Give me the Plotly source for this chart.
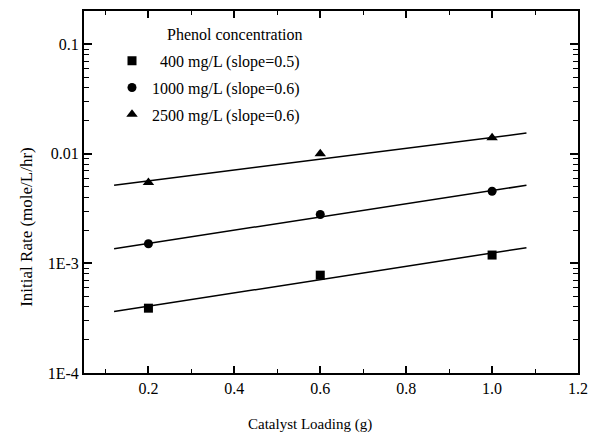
import plotly.graph_objects as go

# Data
catalyst_g = [0.2, 0.6, 1.0]
rate_400 = [0.00039, 0.00078, 0.00119]
rate_1000 = [0.00151, 0.00279, 0.00454]
rate_2500 = [0.00545, 0.0100, 0.0140]

# Fitted lines (end points)
fit_x = [0.12, 1.08]
fit_400 = [0.000363, 0.00139]
fit_1000 = [0.00136, 0.00515]
fit_2500 = [0.00515, 0.01542]

names = ["\u2007400 mg/L (slope=0.5)", "1000 mg/L (slope=0.6)", "2500 mg/L (slope=0.6)"]
symbols = ["square", "circle", "triangle-up"]
sizes = [9, 9, 10]

FONT = "'Liberation Serif', 'Times New Roman', serif"
W, H = 603, 443
ML, MR, MT, MB = 84, 25, 9, 70
PW, PH = W - ML - MR, H - MT - MB

def px_x(p):
    return (p - ML) / PW

def px_y(p):
    return 1 - (p - MT) / PH

fig = go.Figure()

for fy in [fit_400, fit_1000, fit_2500]:
    fig.add_trace(go.Scatter(x=fit_x, y=fy, mode="lines",
                             line=dict(color="black", width=1.5),
                             showlegend=False, hoverinfo="skip"))

for i, (ys, nm) in enumerate(zip([rate_400, rate_1000, rate_2500], names)):
    fig.add_trace(go.Scatter(x=catalyst_g, y=ys, mode="markers", name=nm,
                             legendgroup=f"g{i}",
                             marker=dict(symbol=symbols[i], size=sizes[i], color="black",
                                         line=dict(width=0))))

axis_common = dict(showline=True, linecolor="black", linewidth=2, mirror="allticks",
                   ticks="inside", tickcolor="black", showgrid=False, zeroline=False,
                   tickfont=dict(family=FONT, size=16, color="black"))

fig.update_xaxes(range=[0.05, 1.2], tick0=0, dtick=0.2, ticklen=7, tickwidth=1.5,
                 tickformat=".1f",
                 minor=dict(ticks="inside", dtick=0.1, tick0=0, ticklen=4, tickcolor="black", tickwidth=1),
                 **axis_common)
fig.update_yaxes(type="log", range=[-4, -0.699],
                 tickvals=[1e-4, 1e-3, 1e-2, 1e-1], ticktext=["1E-4", "1E-3", "0.01", "0.1"],
                 ticklen=8, tickwidth=1.5,
                 minor=dict(ticks="inside", dtick="D1", ticklen=5, tickcolor="black", tickwidth=1),
                 **axis_common)

annotations = [
    dict(text="Catalyst Loading (g)", xref="paper", yref="paper",
         x=px_x(310), y=px_y(425), xanchor="center", yanchor="middle", showarrow=False,
         font=dict(family=FONT, size=15, color="black")),
    dict(text="Initial Rate (mole/L/hr)", xref="paper", yref="paper", textangle=-90,
         x=px_x(27), y=px_y(226), xanchor="center", yanchor="middle", showarrow=False,
         font=dict(family=FONT, size=17, color="black")),
    dict(text="Phenol concentration", xref="paper", yref="paper",
         x=px_x(235), y=px_y(33), xanchor="center", yanchor="middle", showarrow=False,
         font=dict(family=FONT, size=16, color="black")),
]

fig.update_layout(
    width=W, height=H,
    margin=dict(l=ML, r=MR, t=MT, b=MB),
    plot_bgcolor="white", paper_bgcolor="white",
    font=dict(family=FONT, color="black"),
    showlegend=True,
    annotations=annotations,
    legend=dict(x=px_x(112), y=px_y(42), xanchor="left", yanchor="top",
                bgcolor="rgba(0,0,0,0)", tracegroupgap=3, traceorder="grouped",
                font=dict(family=FONT, size=16, color="black")),
)

fig.write_html("out.html")
